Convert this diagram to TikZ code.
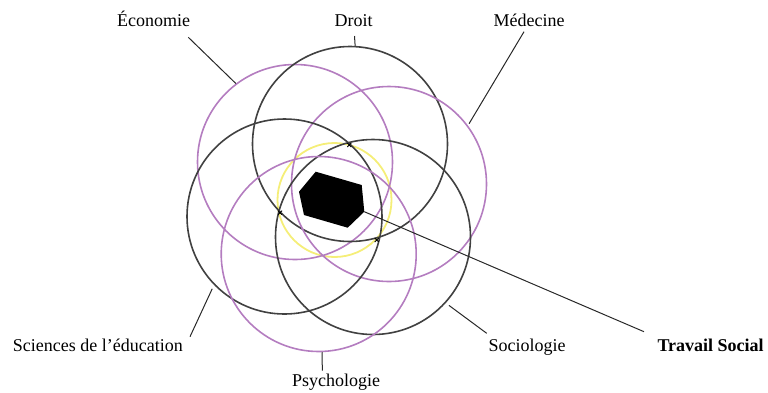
\documentclass[tikz,border=0pt]{standalone}
\usepackage{fontspec}
\setmainfont{Liberation Serif}
\usetikzlibrary{calc}
\definecolor{ringpurple}{RGB}{180,125,192}
\definecolor{ringblack}{RGB}{65,65,65}
\definecolor{ringyellow}{RGB}{245,238,120}
\definecolor{leadcol}{RGB}{40,40,40}
\begin{document}
\begin{tikzpicture}[x=1pt,y=-1pt,
  ring/.style={circle,inner sep=0pt,minimum size=195pt,line width=1.6pt},
  pring/.style={ring,draw=ringpurple},
  bring/.style={ring,draw=ringblack},
  yring/.style={circle,inner sep=0pt,minimum size=114pt,line width=1.8pt,draw=ringyellow},
  lab/.style={font=\fontsize{18}{21}\selectfont,inner sep=0pt},
  lead/.style={draw=leadcol,line width=1pt},
  tick/.style={draw=black,line width=0.8pt}
]
\useasboundingbox (0,0) rectangle (768,392);
% yellow core circle
\node[yring] (core) at (334.5,200) {};
% discipline circles
\node[pring] (eco) at (295,162) {};
\node[bring] (droit) at (350,144) {};
\node[pring] (med) at (389,184) {};
\node[bring] (sci) at (284.5,216.5) {};
\node[bring] (soc) at (373,237) {};
\node[pring] (psy) at (318.7,254) {};
% small crossing marks
\foreach \p/\q in {349.3/145, 280/212.7, 376.7/240}{
  \draw[tick] (\p-2,\q-2) -- (\p+2,\q+2) (\p-2,\q+2) -- (\p+2,\q-2);
}
% hexagon (Travail Social)
\coordinate (h1) at (315.7,171.7);
\coordinate (h2) at (361.7,185);
\coordinate (h3) at (364.3,211.7);
\coordinate (h4) at (347.7,227.7);
\coordinate (h5) at (304,215);
\coordinate (h6) at (299,191.7);
\fill[black] (h1) -- (h2) -- (h3) -- (h4) -- (h5) -- (h6) -- cycle;
% labels
\node[lab,anchor=base] (ecoL) at (153.5,26) {Économie};
\node[lab,anchor=base] (droitL) at (353.7,26.5) {Droit};
\node[lab,anchor=base] (medL) at (529,26.7) {Médecine};
\node[lab,anchor=base west] (sciL) at (12.7,351.7) {Sciences de l’éducation};
\node[lab,anchor=base west] (socL) at (488.3,351.7) {Sociologie};
\node[lab,anchor=base west,font=\fontsize{18}{21}\selectfont\bfseries] (tsL) at (657.3,351.7) {Travail Social};
\node[lab,anchor=base] (psyL) at (336,386.7) {Psychologie};
% leader ends near labels
\coordinate (ecoE) at (188.3,37.3);
\coordinate (droitE) at (354.5,36);
\coordinate (medE) at (524,31.7);
\coordinate (sciE) at (190,336.7);
\coordinate (socE) at (486.7,333.3);
\coordinate (psyE) at (322.3,370.7);
\coordinate (tsE) at (644,331.7);
% leaders
\draw[lead] (eco.127) -- (ecoE);
\draw[lead] (droit.87) -- (droitE);
\draw[lead] ($(med.center)!1.02!(med.37)$) -- (medE);
\draw[lead] ($(sci.center)!1.04!(sci.225)$) -- (sciE);
\draw[lead] ($(soc.center)!1.04!(soc.-42)$) -- (socE);
\draw[lead] (psy.-88) -- (psyE);
\draw[lead] (h3) -- (tsE);
\end{tikzpicture}
\end{document}
